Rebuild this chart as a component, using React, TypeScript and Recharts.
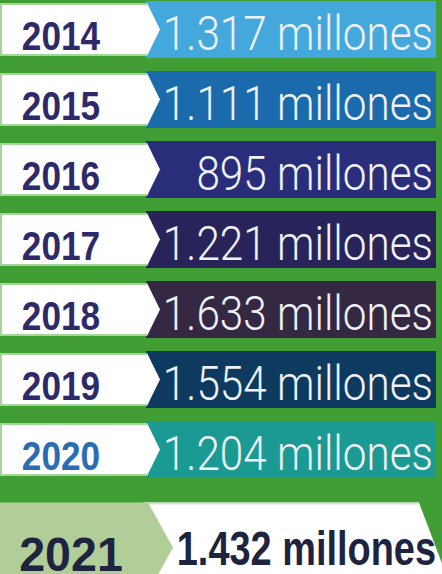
import { BarChart, Bar, XAxis, YAxis } from "recharts";

const years = ["2014", "2015", "2016", "2017", "2018", "2019", "2020", "2021"];
const values = [1317, 1111, 895, 1221, 1633, 1554, 1204, 1432];
const valueLabels = [
  "1.317 millones",
  "1.111 millones",
  "895 millones",
  "1.221 millones",
  "1.633 millones",
  "1.554 millones",
  "1.204 millones",
  "1.432 millones",
];

const boxColors = ["#45a8dc", "#1a6aac", "#2a2e7a", "#28245a", "#352843", "#0f3a5f", "#1a9a92"];
const yearColors = ["#2e2a6a", "#2e2a6a", "#2e2a6a", "#2e2a6a", "#2e2a6a", "#2e2a6a", "#2a6db5"];

const data = years.map((year, i) => ({ year, value: values[i], label: valueLabels[i] }));

const font = "'Liberation Sans', Arial, sans-serif";
const lightFont = "Roboto, 'Liberation Sans', sans-serif";

function RowShape(props: any) {
  const { y, height, index, payload } = props;
  const top = y;
  const bottom = y + height;
  const mid = y + height / 2;

  if (index === years.length - 1) {
    const t = mid - 17;
    return (
      <g>
        <polygon
          points={`143,${t} 419,${t} 442,${t + 61} 442,${t + 120} 143,${t + 120}`}
          fill="#ffffff"
        />
        <line x1={143} y1={t + 1} x2={419} y2={t + 1} stroke="#cfe6c8" strokeWidth={2} />
        <polygon
          points={`0,${t} 148,${t} 173,${t + 45} 148,${t + 90} 0,${t + 90}`}
          fill="#b1cd98"
        />
        <text
          transform={`translate(71 ${t + 68}) scale(0.95 1)`}
          textAnchor="middle"
          fontFamily={font}
          fontWeight={700}
          fontSize={49}
          fill="#1e2440"
        >
          {payload.year}
        </text>
        <text
          transform={`translate(436 ${t + 62}) scale(0.79 1)`}
          textAnchor="end"
          fontFamily={font}
          fontWeight={700}
          fontSize={48}
          fill="#1e2440"
        >
          {payload.label}
        </text>
      </g>
    );
  }

  return (
    <g>
      <rect x={146} y={top} width={290} height={height} fill={boxColors[index]} />
      <polygon
        points={`0,${top + 2} 147,${top + 2} 160,${mid} 147,${bottom - 2} 0,${bottom - 2}`}
        fill="#ffffff"
      />
      <polyline
        points={`147,${top + 3} 1,${top + 3} 1,${bottom - 3} 147,${bottom - 3}`}
        fill="none"
        stroke="#a6d59a"
        strokeWidth={2}
      />
      <text
        transform={`translate(61 ${mid + 20}) scale(0.88 1)`}
        textAnchor="middle"
        fontFamily={font}
        fontWeight={700}
        fontSize={40}
        fill={yearColors[index]}
      >
        {payload.year}
      </text>
      <text
        transform={`translate(433 ${mid + 20}) scale(0.88 1)`}
        textAnchor="end"
        fontFamily={lightFont}
        fontWeight={300}
        fontSize={48}
        fill="#eef2f8"
      >
        {payload.label}
      </text>
    </g>
  );
}

export default function App() {
  return (
    <div
      style={{
        position: "fixed",
        left: 0,
        top: 0,
        width: 442,
        height: 574,
        overflow: "hidden",
        background: "#419e35",
      }}
    >
      <div style={{ position: "absolute", left: 0, top: -6 }}>
        <BarChart
          width={442}
          height={620}
          data={data}
          layout="vertical"
          margin={{ top: 0, right: 0, bottom: 60, left: 0 }}
        >
          <XAxis type="number" hide domain={[0, "dataMax"]} />
          <YAxis type="category" dataKey="year" hide />
          <Bar dataKey="value" barSize={57} shape={RowShape} isAnimationActive={false} />
        </BarChart>
      </div>
    </div>
  );
}
